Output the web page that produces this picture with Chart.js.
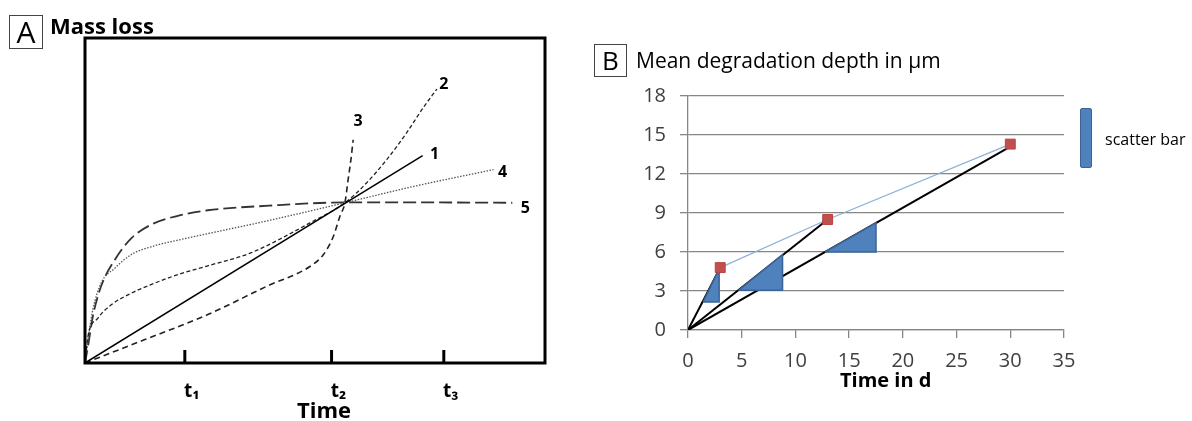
<!DOCTYPE html>
<html>
<head>
<meta charset="utf-8">
<script src="https://cdn.jsdelivr.net/npm/chart.js@4.4.1/dist/chart.umd.min.js"></script>
<style>
  body { margin: 0; width: 1192px; height: 421px; background: #fff; position: relative; overflow: hidden;
         font-family: "Open Sans", "Noto Sans", sans-serif; color: #000; }
  .wrap { position: absolute; }
  .tag { position: absolute; box-sizing: border-box; border: 1px solid #444; text-align: center; }
  .lbl { position: absolute; white-space: nowrap; line-height: 1; }
  .swatch { position: absolute; box-sizing: border-box; background: #4f81bd; border: 1.5px solid #3a6496; border-radius: 2px; }
</style>
</head>
<body>
<div class="wrap" style="left:0;top:0;width:560px;height:421px"><canvas id="chartA"></canvas></div>
<div class="wrap" style="left:600px;top:70px;width:592px;height:340px"><canvas id="chartB"></canvas></div>

<div class="tag" style="left:9px;top:15px;width:34px;height:34px;font-size:30px;line-height:32px">A</div>
<div class="lbl" style="left:50px;top:14px;font-size:22px;font-weight:bold">Mass loss</div>
<div class="lbl" style="left:297px;top:398px;font-size:22px;font-weight:bold">Time</div>

<div class="tag" style="left:594px;top:44px;width:33px;height:33px;font-size:26px;line-height:31px">B</div>
<div class="lbl" style="left:636px;top:50px;font-size:21px">Mean degradation depth in µm</div>
<div class="lbl" style="left:840px;top:370px;font-size:20px;font-weight:bold">Time in d</div>
<div class="swatch" style="left:1080px;top:108px;width:12px;height:60px"></div>
<div class="lbl" style="left:1105px;top:131px;font-size:16px">scatter bar</div>

<script>
// Panel A: schematic mass loss curves (arbitrary units 0-100)
const curveNames = ['1', '2', '3', '4', '5'];

const curve1X = [0, 73.4];
const curve1Y = [0, 63.8];

const curve2X = [0, 0.65, 2.8, 5.7, 10.1, 15.2, 20.2, 26.7, 35.9, 48.9, 56.5, 61.2, 65.6, 69.9, 73.5, 76.5];
const curve2Y = [0, 8.2, 13.8, 17.9, 21.5, 24.6, 27.2, 29.9, 33.8, 43.1, 49.3, 55.4, 62.6, 70.8, 78.5, 84.3];

const curve3X = [0, 13, 26.7, 39.5, 48.9, 51.8, 54.0, 55.4, 56.5, 57.2, 57.8, 58.3];
const curve3Y = [0, 7.2, 14.9, 23.6, 29.7, 33.3, 39.0, 45.1, 49.3, 56.4, 62.5, 68.7];

const curve4X = [0, 0.65, 1.7, 3.5, 6.5, 10.1, 15.2, 20.2, 26.7, 39.5, 56.5, 72, 88.8];
const curve4Y = [0, 7.2, 16.4, 24.6, 29.2, 33.4, 36.1, 37.8, 39.8, 43.7, 49.3, 54.5, 59.5];

const curve5X = [0, 0.65, 1.7, 3.5, 6.5, 10.1, 14.4, 20.2, 26.7, 40, 56.5, 75, 92.9];
const curve5Y = [0, 5.1, 14.3, 23.6, 31.8, 38.4, 42.6, 45.3, 47.0, 48.4, 49.4, 49.4, 49.3];

const timeTicks = [21.7, 53.6, 78.0];
const timeTickLabels = ['t\u2081', 't\u2082', 't\u2083'];

// Panel B: mean degradation depth
const meanDays = [3, 13, 30];
const meanDepth = [4.8, 8.5, 14.3];

const fitEndDays = [3, 13, 30];
const fitEndDepth = [4.8, 8.5, 14.1];

const scatterDayLow = [1.4, 4.7, 12.75];
const scatterDayHigh = [2.9, 8.8, 17.5];
const scatterDepthLow = [2.15, 3.05, 6.0];
const scatterDepthHigh = [4.7, 5.8, 8.25];

const toPoints = (xs, ys) => xs.map((x, i) => ({ x: x, y: ys[i] }));

// ---------- chart A ----------
const curveStyles = [
    { color: '#000', width: 1.5, dash: [], dx: 12, dy: -1 },
    { color: '#222', width: 1.3, dash: [4, 2.5], dx: 7, dy: -5 },
    { color: '#222', width: 1.6, dash: [6, 4], dx: 5, dy: -18 },
    { color: '#555', width: 1.3, dash: [1.5, 1.5], dx: 9, dy: 3 },
    { color: '#333', width: 1.8, dash: [13, 5], dx: 13, dy: 6 }
];
const curveData = [
    toPoints(curve1X, curve1Y),
    toPoints(curve2X, curve2Y),
    toPoints(curve3X, curve3Y),
    toPoints(curve4X, curve4Y),
    toPoints(curve5X, curve5Y)
];

const frameAndLabels = {
    id: 'frameAndLabels',
    afterDraw(chart) {
        const { ctx, chartArea: a, scales } = chart;
        ctx.save();
        ctx.strokeStyle = '#000';
        ctx.lineWidth = 3;
        ctx.strokeRect(a.left, a.top, a.right - a.left, a.bottom - a.top);
        // inward tick marks
        timeTicks.forEach(t => {
            const x = scales.x.getPixelForValue(t);
            ctx.beginPath();
            ctx.moveTo(x, a.bottom);
            ctx.lineTo(x, a.bottom - 13);
            ctx.stroke();
        });
        // curve numbers next to each curve end
        ctx.fillStyle = '#000';
        ctx.font = 'bold 16px "Open Sans", "Noto Sans", sans-serif';
        ctx.textAlign = 'center';
        ctx.textBaseline = 'middle';
        chart.data.datasets.forEach((ds, i) => {
            const pts = chart.getDatasetMeta(i).data;
            const last = pts[pts.length - 1];
            ctx.fillText(curveNames[i], last.x + curveStyles[i].dx, last.y + curveStyles[i].dy);
        });
        ctx.restore();
    }
};

new Chart(document.getElementById('chartA'), {
    type: 'scatter',
    data: {
        datasets: curveData.map((pts, i) => ({
            label: curveNames[i],
            data: pts,
            showLine: true,
            borderColor: curveStyles[i].color,
            borderWidth: curveStyles[i].width,
            borderDash: curveStyles[i].dash,
            cubicInterpolationMode: 'monotone',
            pointRadius: 0
        }))
    },
    options: {
        responsive: true,
        maintainAspectRatio: false,
        animation: false,
        layout: { padding: { left: 85, right: 15, top: 38, bottom: 0 } },
        plugins: { legend: { display: false }, tooltip: { enabled: false } },
        scales: {
            x: {
                type: 'linear', min: 0, max: 100,
                grid: { display: false },
                border: { display: false },
                afterBuildTicks: (s) => { s.ticks = timeTicks.map(v => ({ value: v })); },
                afterFit: (s) => { s.height = 58; },
                ticks: {
                    autoSkip: false,
                    maxRotation: 0,
                    padding: 9,
                    labelOffset: 7,
                    color: '#000',
                    font: { family: '"Open Sans", "Noto Sans", sans-serif', size: 19, weight: 'bold' },
                    callback: (v, i) => timeTickLabels[i]
                }
            },
            y: { type: 'linear', min: 0, max: 100, display: false }
        }
    },
    plugins: [frameAndLabels]
});

// ---------- chart B ----------
const barShapes = scatterDayLow.map((x0, i) => [
    { x: x0, y: scatterDepthLow[i] },
    { x: scatterDayHigh[i], y: scatterDepthLow[i] },
    { x: scatterDayHigh[i], y: scatterDepthHigh[i] },
    { x: x0, y: scatterDepthLow[i] }
]);

const gridGrey = '#868686';

new Chart(document.getElementById('chartB'), {
    type: 'scatter',
    data: {
        datasets: [
            {
                label: 'mean',
                data: toPoints(meanDays, meanDepth),
                pointStyle: 'rect',
                pointRadius: 7,
                backgroundColor: '#c0504d',
                borderColor: '#b9413e',
                borderWidth: 1
            },
            {
                label: 'mean line',
                data: toPoints(meanDays, meanDepth),
                showLine: true,
                pointRadius: 0,
                borderColor: '#8fb0d8',
                borderWidth: 1.3
            },
            ...barShapes.map(shape => ({
                label: 'scatter bar',
                data: shape,
                showLine: true,
                fill: 'shape',
                pointRadius: 0,
                backgroundColor: '#4f81bd',
                borderColor: '#3a6496',
                borderWidth: 1.5
            })),
            ...fitEndDays.map((d, i) => ({
                label: 'fit',
                data: [{ x: 0, y: 0 }, { x: d, y: fitEndDepth[i] }],
                showLine: true,
                pointRadius: 0,
                borderColor: '#000',
                borderWidth: 2
            }))
        ]
    },
    options: {
        responsive: true,
        maintainAspectRatio: false,
        animation: false,
        layout: { padding: { left: 0, right: 128, top: 17, bottom: 0 } },
        plugins: { legend: { display: false }, tooltip: { enabled: false } },
        scales: {
            x: {
                type: 'linear', min: 0, max: 35,
                afterFit: (s) => { s.height = 80; },
                grid: { drawOnChartArea: false, color: gridGrey, lineWidth: 1.3, tickLength: 8 },
                border: { color: gridGrey, width: 1.3 },
                ticks: {
                    stepSize: 5, padding: 11, color: '#404040', maxRotation: 0,
                    font: { family: '"Open Sans", sans-serif', size: 20 }
                }
            },
            y: {
                type: 'linear', min: 0, max: 18,
                afterFit: (s) => { s.width = 88; },
                grid: { color: gridGrey, lineWidth: 1.3, tickLength: 8 },
                border: { color: gridGrey, width: 1.3 },
                ticks: {
                    stepSize: 3, padding: 14, color: '#404040',
                    font: { family: '"Open Sans", sans-serif', size: 20 }
                }
            }
        }
    }
});
</script>
</body>
</html>
